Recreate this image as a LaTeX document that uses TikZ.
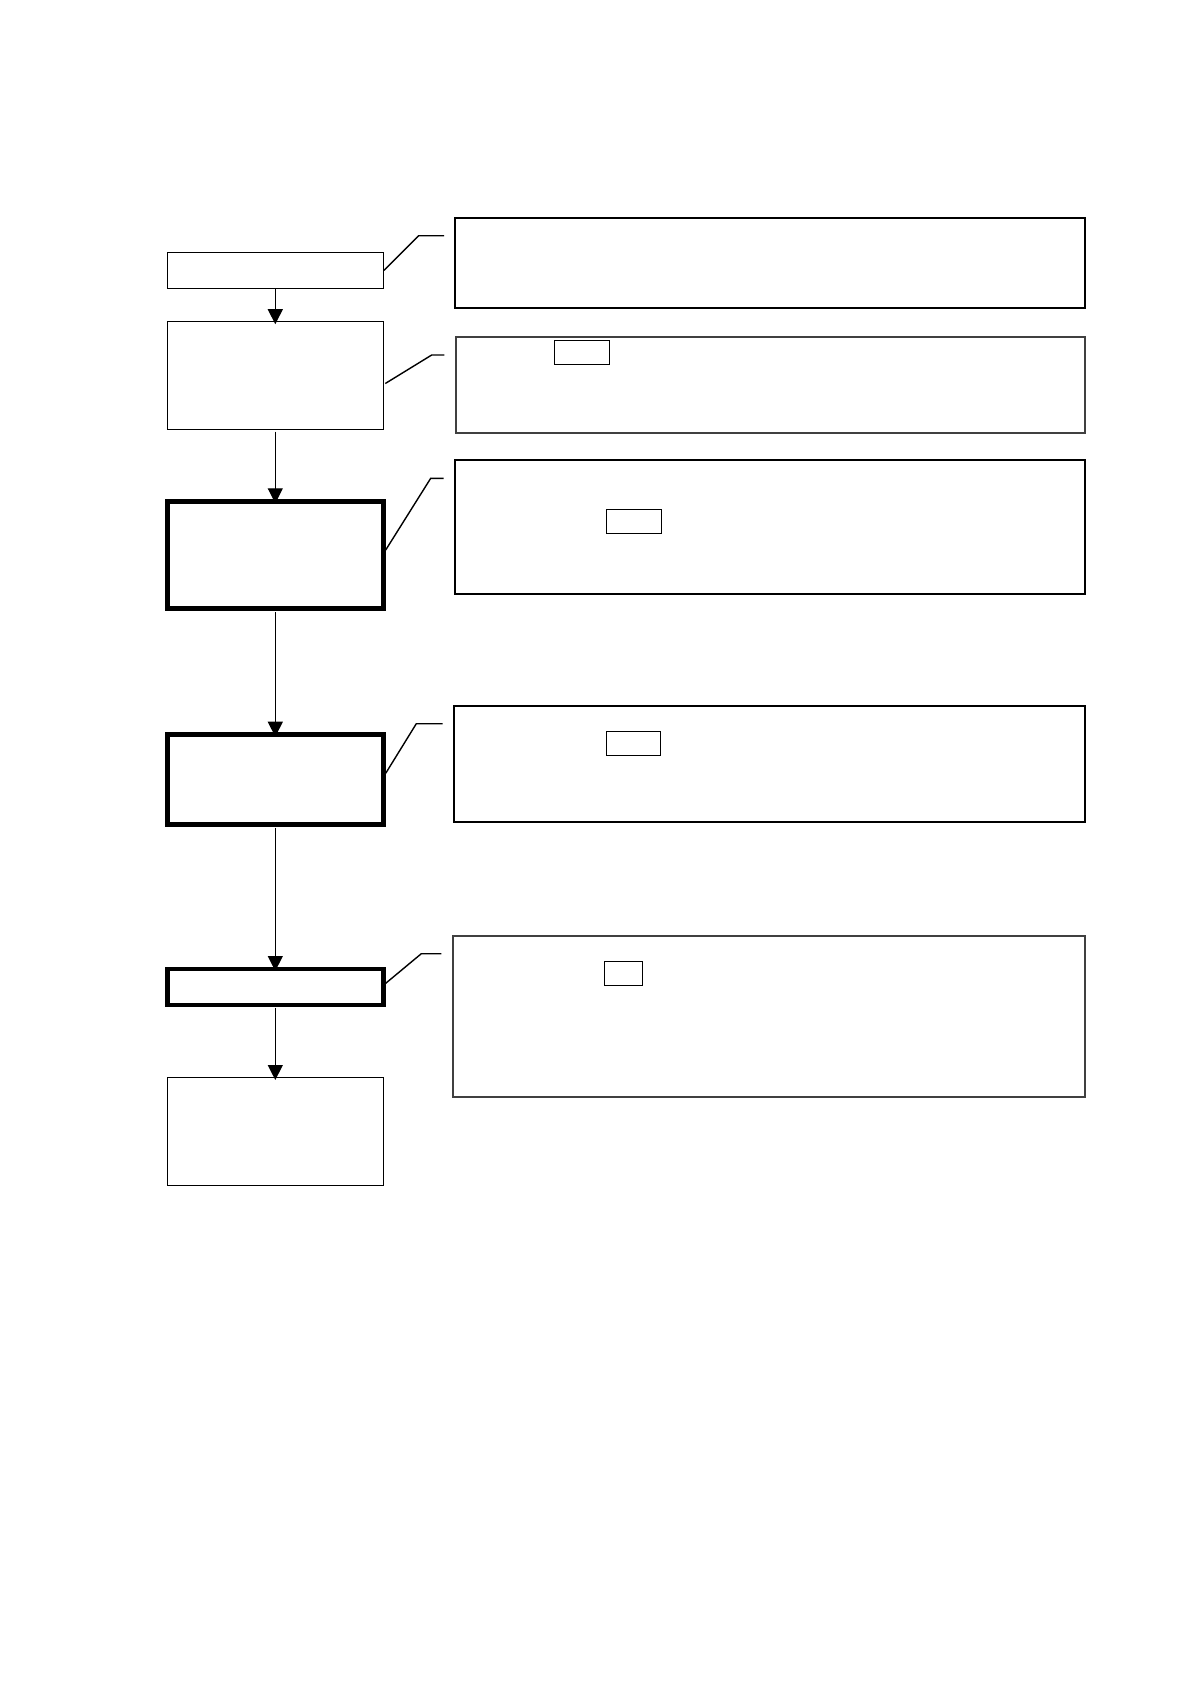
\documentclass[tikz,border=0pt]{standalone}
\usetikzlibrary{arrows.meta,calc}
\begin{document}
\begin{tikzpicture}[x=1pt,y=-1pt,
  lbox/.style={draw, line width=1.3pt, inner sep=0pt, outer sep=0pt, minimum width=216pt},
  thickbox/.style={lbox, line width=4.6pt},
  rbox/.style={draw, line width=1.7pt, inner sep=0pt, outer sep=0pt},
  graybox/.style={rbox, draw=black!75},
  sbox/.style={draw, line width=1.3pt, inner sep=0pt, outer sep=0pt},
  arr/.style={line width=1.3pt, -{Triangle[width=15pt,length=15pt]}},
  callout/.style={line width=1.4pt}]
\useasboundingbox[fill=white] (0,0) rectangle (1190,1684);

% left column
\node[lbox, minimum height=36pt] (b1) at (275.3,270.3) {};
\node[lbox, minimum height=108pt] (b2) at (275.3,375.5) {};
\node[thickbox, minimum height=107.4pt] (b3) at (275.3,555) {};
\node[thickbox, minimum height=90pt] (b4) at (275.3,779.7) {};
\node[thickbox, minimum height=36pt] (b5) at (275.3,987) {};
\node[lbox, minimum height=108pt] (b6) at (275.3,1131.3) {};

% right column
\node[rbox, minimum width=630pt, minimum height=89.4pt] (r1) at (770.3,263) {};
\node[graybox, minimum width=629.6pt, minimum height=95.7pt] (r2) at (770.5,384.85) {};
\node[rbox, minimum width=630pt, minimum height=134pt] (r3) at (770.3,527.3) {};
\node[rbox, minimum width=631pt, minimum height=116pt] (r4) at (769.8,763.7) {};
\node[graybox, minimum width=632.3pt, minimum height=161.6pt] (r5) at (769.15,1016.5) {};

% small boxes inside
\node[sbox, minimum width=55pt, minimum height=24pt] (s2) at (581.8,352.3) {};
\node[sbox, minimum width=55pt, minimum height=24pt] (s3) at (633.8,521.3) {};
\node[sbox, minimum width=54pt, minimum height=24pt] (s4) at (633.3,743.3) {};
\node[sbox, minimum width=38pt, minimum height=24.4pt] (s5) at (623.3,973.5) {};

% arrows
\draw[arr] (b1.south) -- ([yshift=-2.7pt]b2.north);
\draw[arr] ([yshift=-2pt]b2.south) -- ([yshift=-2pt]b3.north);
\draw[arr] ([yshift=-3.5pt]b3.south) -- ([yshift=-2pt]b4.north);
\draw[arr] ([yshift=-3pt]b4.south) -- ([yshift=-2pt]b5.north);
\draw[arr] ([yshift=-2.5pt]b5.south) -- ([yshift=-2.7pt]b6.north);

% callout leaders
\coordinate (k1) at (418.7,235.7); \coordinate (e1) at (444,235.7);
\coordinate (k2) at (431.7,355);   \coordinate (e2) at (444.3,355);
\coordinate (k3) at (430.7,478.3); \coordinate (e3) at (443.7,478.3);
\coordinate (k4) at (416.3,723.7); \coordinate (e4) at (442.7,723.7);
\coordinate (k5) at (421.3,953.7); \coordinate (e5) at (441.3,953.7);
\draw[callout] ([xshift=0.7pt]b1.east) -- (k1) -- (e1);
\draw[callout] ([shift={(2pt,-8pt)}]b2.east) -- (k2) -- (e2);
\draw[callout] ([shift={(2.4pt,5pt)}]b3.east) -- (k3) -- (e3);
\draw[callout] ([shift={(2.4pt,6.4pt)}]b4.east) -- (k4) -- (e4);
\draw[callout] ([shift={(2.4pt,3.7pt)}]b5.east) -- (k5) -- (e5);
\end{tikzpicture}
\end{document}
